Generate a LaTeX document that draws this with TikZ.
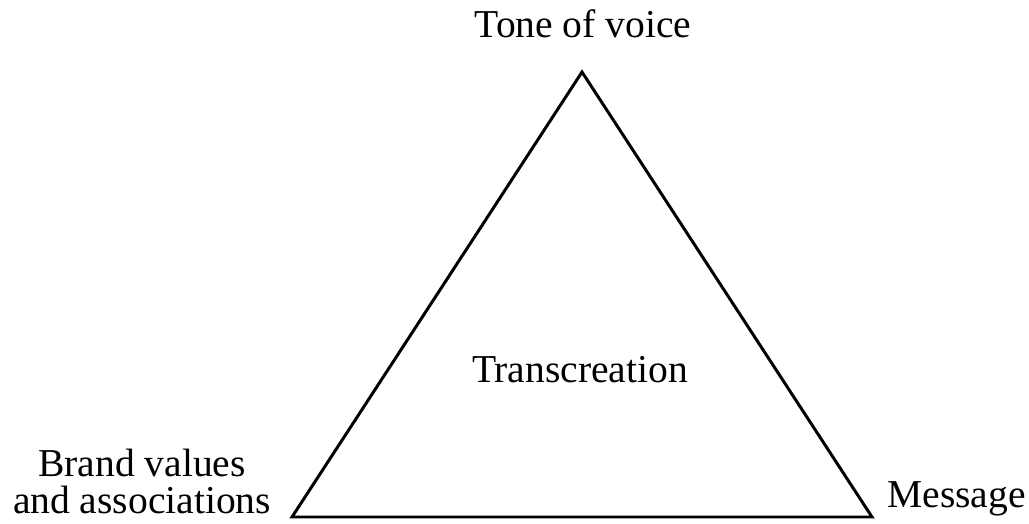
\documentclass[tikz,border=0pt]{standalone}
\usepackage{fontspec}
\setmainfont{Liberation Serif}
\tikzset{
  edge/.style={line width=1.7pt, draw=black, line join=miter},
  lbl/.style={font=\fontsize{22.5}{21}\selectfont, inner sep=0pt, anchor=base},
}

\begin{document}
\begin{tikzpicture}[x=0.02cm, y=-0.02cm]
\useasboundingbox (0,0) rectangle (1029,524);

% --- esquinas del triangulo ---
\coordinate (top)   at (582,72);
\coordinate (left)  at (292,517);
\coordinate (right) at (872,517);
\draw[edge] (top) -- (right) -- (left) -- cycle;

% --- etiquetas ---
\node[lbl] (tone)   at (583,37)  {Tone of voice};
\node[lbl] (centre) at (580,382) {Transcreation};
\node[lbl, align=center, anchor=south] (brand) at (142,514) {Brand values\\and associations};
\node[lbl, anchor=base west] (msg) at (887,507) {Message};
\end{tikzpicture}
\end{document}
